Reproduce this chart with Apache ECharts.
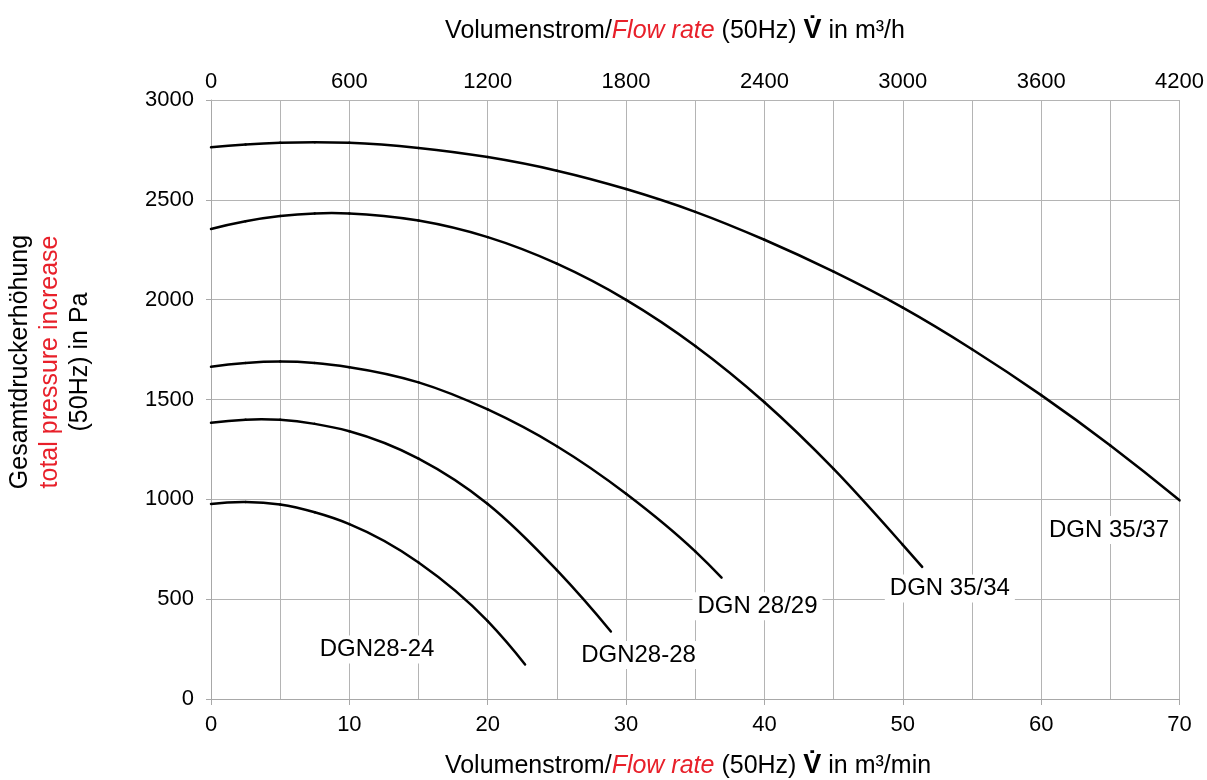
<!DOCTYPE html>
<html>
<head>
<meta charset="utf-8">
<script src="https://cdn.jsdelivr.net/npm/echarts@6/dist/echarts.min.js"></script>
<style>
html,body{margin:0;padding:0;background:#fff;overflow:hidden;}
#chart{width:1207px;height:780px;}
</style>
</head>
<body>
<div id="chart"></div>
<script>
// Flow rate (m³/min) and total pressure increase (Pa) per fan curve
const q3537 = [0, 2.5, 5, 7.5, 10, 15, 20, 25, 30, 35, 40, 45, 50, 55, 60, 65, 70];
const p3537 = [2763, 2777, 2786, 2789, 2786, 2760, 2714, 2646, 2554, 2440, 2300, 2140, 1960, 1752, 1522, 1270, 995];

const q3534 = [0, 2.5, 5, 7.5, 10, 15, 20, 25, 30, 35, 40, 45, 50, 51.4];
const p3534 = [2354, 2393, 2419, 2432, 2432, 2396, 2313, 2180, 1999, 1768, 1486, 1152, 772, 662];

const q2829 = [0, 2.5, 5, 7.5, 10, 15, 20, 25, 30, 35, 36.9];
const p2829 = [1664, 1683, 1690, 1683, 1662, 1586, 1450, 1266, 1028, 739, 608];

const q2828 = [0, 2.5, 5, 7.5, 10, 15, 20, 25, 28.9];
const p2828 = [1383, 1399, 1398, 1378, 1341, 1204, 977, 645, 338];

const q2824 = [0, 2.5, 5, 7.5, 10, 15, 20, 22.7];
const p2824 = [977, 987, 974, 935, 876, 684, 390, 173];

// Curve labels (name, flow, pressure where the label sits)
const labelNames = ['DGN28-24', 'DGN28-28', 'DGN 28/29', 'DGN 35/34', 'DGN 35/37'];
const labelQ = [12.0, 30.9, 39.5, 53.4, 64.9];
const labelP = [248, 220, 464, 554, 846];

// Axis ranges / ticks
const xMinMin = 0, xMaxMin = 70, xStepMin = 10;
const xMinH = 0, xMaxH = 4200, xGridH = 300, xLabelStepH = 600;
const yMin = 0, yMax = 3000, yStep = 500;

const FONT = 'Arial, "Liberation Sans", Helvetica, sans-serif';
const GRID = '#b4b4b4';
const RED = '#e8202a';

// Smooth curve through the read points: cubic Hermite segments (y as a function of x),
// each segment placed through the chart's own axes with api.coord.
function curveSeries(q, p) {
  const n = q.length;
  const slopes = q.map((x, i) => {
    if (i === 0) {
      const h0 = q[1] - q[0], h1 = q[2] - q[1];
      return -(2 * h0 + h1) / (h0 * (h0 + h1)) * p[0] + (h0 + h1) / (h0 * h1) * p[1] - h0 / (h1 * (h0 + h1)) * p[2];
    }
    if (i === n - 1) {
      const h0 = q[n - 2] - q[n - 3], h1 = q[n - 1] - q[n - 2];
      return h1 / (h0 * (h0 + h1)) * p[n - 3] - (h0 + h1) / (h0 * h1) * p[n - 2] + (2 * h1 + h0) / (h1 * (h0 + h1)) * p[n - 1];
    }
    const h0 = x - q[i - 1], h1 = q[i + 1] - x;
    return (h0 * h0 * (p[i + 1] - p[i]) + h1 * h1 * (p[i] - p[i - 1])) / (h0 * h1 * (h0 + h1));
  });
  return {
    type: 'custom', xAxisIndex: 0, yAxisIndex: 0, silent: true, z: 3,
    data: q.map((x, i) => [x, p[i]]),
    encode: {x: 0, y: 1},
    renderItem: (params, api) => {
      const i = params.dataIndex;
      if (i >= n - 1) return null;
      const h = q[i + 1] - q[i];
      const a = api.coord([q[i], p[i]]);
      const c1 = api.coord([q[i] + h / 3, p[i] + slopes[i] * h / 3]);
      const c2 = api.coord([q[i + 1] - h / 3, p[i + 1] - slopes[i + 1] * h / 3]);
      const b = api.coord([q[i + 1], p[i + 1]]);
      return {
        type: 'bezierCurve',
        shape: {x1: a[0], y1: a[1], cpx1: c1[0], cpy1: c1[1], cpx2: c2[0], cpy2: c2[1], x2: b[0], y2: b[1]},
        style: {stroke: '#000', lineWidth: 2.5, fill: 'none', lineCap: 'round'}
      };
    }
  };
}

const chart = echarts.init(document.getElementById('chart'), null, {renderer: 'canvas', width: 1207, height: 780});

const lineSeries = [
  curveSeries(q3537, p3537), curveSeries(q3534, p3534), curveSeries(q2829, p2829),
  curveSeries(q2828, p2828), curveSeries(q2824, p2824)
];

const titleRich = {
  a: {fontFamily: FONT, fontSize: 25, fill: '#000'},
  r: {fontFamily: FONT, fontSize: 25, fill: RED, fontStyle: 'italic'},
  b: {fontFamily: FONT, fontSize: 27, fill: '#000', fontWeight: 'bold'}
};

chart.setOption({
  animation: false,
  backgroundColor: '#fff',
  grid: {left: 211, top: 100, width: 974, height: 599, containLabel: false},
  xAxis: [
    {
      type: 'value', position: 'bottom', min: xMinMin, max: xMaxMin, interval: xStepMin,
      axisLine: {show: true, lineStyle: {color: '#a8a8a8', width: 1}},
      axisTick: {show: true, length: 6, lineStyle: {color: '#a8a8a8'}},
      axisLabel: {color: '#000', fontSize: 22, fontFamily: FONT, margin: 15},
      splitLine: {show: false}
    },
    {
      type: 'value', position: 'top', min: xMinH, max: xMaxH, interval: xGridH,
      axisLine: {show: true, lineStyle: {color: GRID, width: 1}},
      axisTick: {show: false},
      axisLabel: {
        color: '#000', fontSize: 22, fontFamily: FONT, margin: 7,
        formatter: v => (v % xLabelStepH === 0 ? String(v) : '')
      },
      splitLine: {show: true, lineStyle: {color: GRID, width: 1}}
    }
  ],
  yAxis: {
    type: 'value', min: yMin, max: yMax, interval: yStep,
    axisLine: {show: true, lineStyle: {color: '#a8a8a8', width: 1}},
    axisTick: {show: true, length: 5, lineStyle: {color: '#a8a8a8'}},
    axisLabel: {color: '#000', fontSize: 22, fontFamily: FONT, margin: 17, formatter: v => String(v)},
    splitLine: {show: true, lineStyle: {color: GRID, width: 1}}
  },
  series: lineSeries.concat([{
    type: 'scatter', xAxisIndex: 0, yAxisIndex: 0, silent: true,
    data: labelQ.map((v, i) => [v, labelP[i]]),
    symbolSize: 0, itemStyle: {color: '#000'}, z: 4,
    label: {
      show: true, position: 'inside', opacity: 1,
      formatter: p => labelNames[p.dataIndex],
      color: '#000', fontSize: 24, fontFamily: FONT,
      backgroundColor: '#fff', padding: [2, 5]
    }
  }]),
  graphic: [
    {
      type: 'text', z: 10,
      x: 675, y: 31,
      style: {
        text: '{a|Volumenstrom/}{r|Flow rate}{a| (50Hz) }{b|V\u0307}{a| in m³/h}',
        rich: titleRich, align: 'center', verticalAlign: 'middle'
      }
    },
    {
      type: 'text', z: 10,
      x: 688, y: 766,
      style: {
        text: '{a|Volumenstrom/}{r|Flow rate}{a| (50Hz) }{b|V\u0307}{a| in m³/min}',
        rich: titleRich, align: 'center', verticalAlign: 'middle'
      }
    },
    {
      type: 'text', z: 10,
      x: 50, y: 362, rotation: Math.PI / 2,
      style: {
        text: '{a|Gesamtdruckerhöhung}\n{r|total pressure increase}\n{a|(50Hz) in Pa}',
        rich: {
          a: {fontFamily: FONT, fontSize: 25, fill: '#000', lineHeight: 30, align: 'center'},
          r: {fontFamily: FONT, fontSize: 25, fill: RED, lineHeight: 30, align: 'center'}
        },
        align: 'center', verticalAlign: 'middle'
      }
    }
  ]
});
</script>
</body>
</html>
